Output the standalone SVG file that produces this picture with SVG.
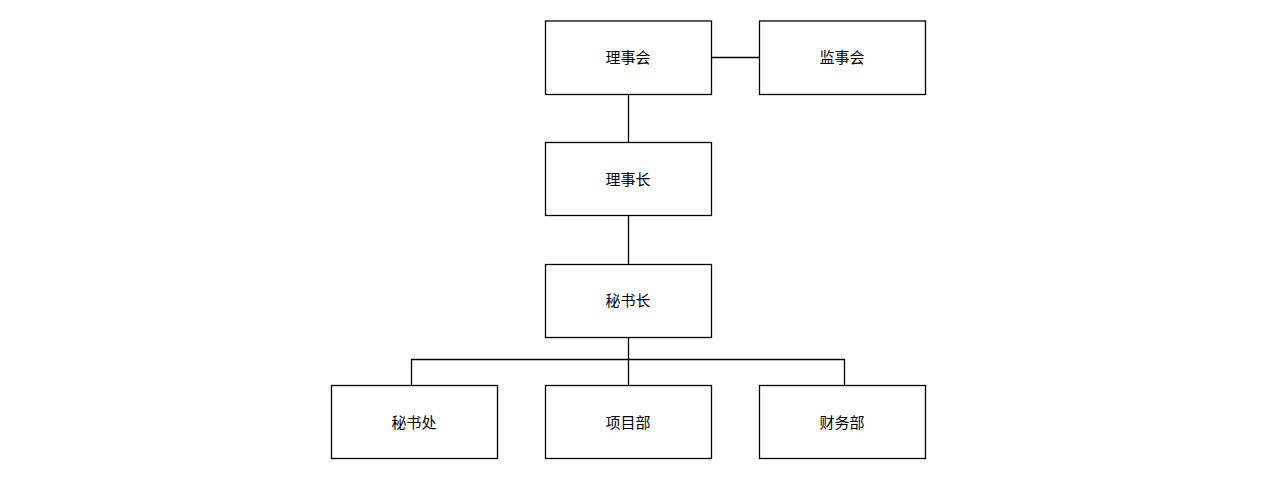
<svg xmlns="http://www.w3.org/2000/svg" width="1275" height="479" viewBox="0 0 1275 479">
<style>
.box{fill:#fff;stroke:#000;stroke-width:1.3}
.lbl{font-family:"Noto Sans CJK SC","Noto Sans",sans-serif;font-size:15px;fill:#000;text-anchor:middle;dominant-baseline:central}
.conn{fill:none;stroke:#000;stroke-width:1.3}
</style>
<rect width="1275" height="479" fill="#fff"/>
<g id="connectors">
<path class="conn" d="M711.5 57.5H759.5"/>
<path class="conn" d="M628.5 94.5V142.5"/>
<path class="conn" d="M628.5 215.5V264.5"/>
<path class="conn" d="M628.5 337.5V385.5"/>
<path class="conn" d="M411.5 385.5V359.5H844.5V385.5"/>
</g>
<g id="n1"><rect class="box" x="545.5" y="21" width="166" height="73.5"/><text class="lbl" x="628" y="56.5">理事会</text></g>
<g id="n2"><rect class="box" x="759.5" y="21" width="166" height="73.5"/><text class="lbl" x="842" y="56.5">监事会</text></g>
<g id="n3"><rect class="box" x="545.5" y="142.5" width="166" height="73"/><text class="lbl" x="628" y="178">理事长</text></g>
<g id="n4"><rect class="box" x="545.5" y="264.5" width="166" height="73"/><text class="lbl" x="628" y="299.5">秘书长</text></g>
<g id="n5"><rect class="box" x="331.5" y="385.5" width="166" height="73"/><text class="lbl" x="414" y="421">秘书处</text></g>
<g id="n6"><rect class="box" x="545.5" y="385.5" width="166" height="73"/><text class="lbl" x="628" y="421">项目部</text></g>
<g id="n7"><rect class="box" x="759.5" y="385.5" width="166" height="73"/><text class="lbl" x="842" y="421">财务部</text></g>
</svg>
